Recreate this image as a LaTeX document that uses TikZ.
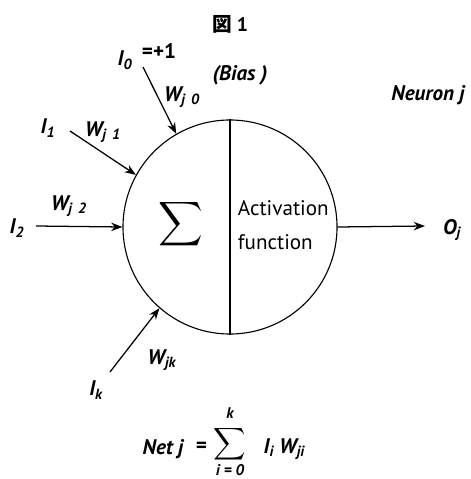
\documentclass[tikz,border=0pt]{standalone}
\usepackage{fontspec}
\setmainfont{PT Sans}
\newfontfamily\jpfont{Noto Sans CJK JP}
\usetikzlibrary{arrows.meta,positioning}

\tikzset{
  lbl/.style={font=\fontsize{15}{17}\selectfont\bfseries\itshape, inner sep=1pt},
  small/.style={font=\fontsize{11}{12}\selectfont\bfseries\itshape, inner sep=0pt},
  inarrow/.style={-{Stealth[length=8pt,width=6pt]}, line width=0.9pt},
}

\begin{document}
\begin{tikzpicture}[x=0.025cm, y=-0.025cm]
  \useasboundingbox (0,0) rectangle (470,479);
  % neuron body
  \node (neuron) [circle, draw, line width=0.8pt, minimum size=5.35cm, inner sep=0pt] at (230,227) {};
  \draw[line width=0.8pt] (neuron.north) -- (neuron.south);
  \node (sigma) at (181,224) {\scalebox{2.2}{$\displaystyle\sum$}};
  \node (act) [align=left, font=\fontsize{15}{24}\selectfont, anchor=west] at (233,225) {Activation\\function};

  % labels
  \node (title) [font=\fontsize{14}{15}\selectfont\bfseries] at (230,24) {{\jpfont 図} 1};
  \node (i0) [lbl] at (125,60) {I\textsubscript{0}};
  \node (plus) [lbl, font=\fontsize{15}{17}\selectfont\bfseries] at (159,51) {=+1};
  \node (bias) [lbl] at (240,75) {(Bias )};
  \node (w0) [lbl] at (182,97) {W\textsubscript{j\, 0}};
  \node (neuj) [lbl] at (428,95) {Neuron j};
  \node (i1) [lbl] at (48,128) {I\textsubscript{1}};
  \node (w1) [lbl] at (103,132) {W\textsubscript{j\, 1}};
  \node (i2) [lbl] at (17,228) {I\textsubscript{2}};
  \node (w2) [lbl] at (69,206) {W\textsubscript{j\, 2}};
  \node (ik) [lbl] at (96,390) {I\textsubscript{k}};
  \node (wk) [lbl] at (162,360) {W\textsubscript{jk}};
  \node (oj) [lbl] at (452,230) {O\textsubscript{j}};

  % connectors
  \coordinate (s0) at (143,67);
  \coordinate (s1) at (70,131);
  \coordinate (s2) at (36,226);
  \coordinate (sk) at (110,372);
  \coordinate (out) at (425,226);
  \draw[inarrow] (s0) -- (neuron.120);
  \draw[inarrow] (s1) -- (neuron.151);
  \draw[inarrow] (s2) -- (neuron.west);
  \draw[inarrow] (sk) -- (neuron.229);
  \draw[inarrow] (neuron.east) -- (out);

  % net input
  \node (bigsum) [inner sep=0pt] at (230,444) {\scalebox{1.6}{$\displaystyle\sum$}};
  \node (top) [small, above=5pt of bigsum] {k};
  \node (bot) [small, below=1pt of bigsum] {i = 0};
  \node (net) [lbl, anchor=east] at (185,449) {Net j};
  \node (eq) [lbl] at (201,447) {=};
  \node (prod) [lbl, anchor=west] at (262,449) {I\textsubscript{i} W\textsubscript{ji}};
\end{tikzpicture}
\end{document}
